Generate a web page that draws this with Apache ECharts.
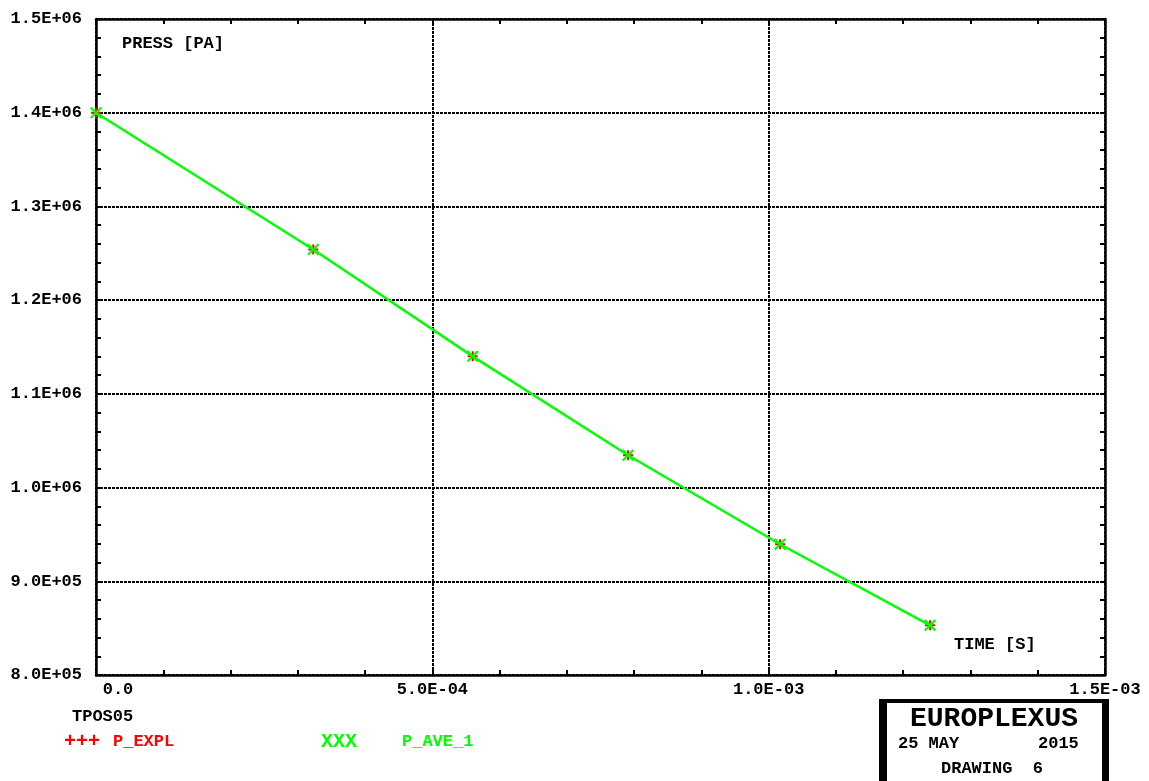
<!DOCTYPE html>
<html>
<head>
<meta charset="utf-8">
<script src="https://cdn.jsdelivr.net/npm/echarts@6/dist/echarts.min.js"></script>
<style>
html,body{margin:0;padding:0;background:#fff;}
#chart{width:1149px;height:781px;}
</style>
</head>
<body>
<div id="chart"></div>
<script>
// ---- data ----
var timeS = [0, 0.000323, 0.000560, 0.000791, 0.001017, 0.001240];
var pExpl = [1400000, 1254000, 1140000, 1034500, 939500, 853000];
var pAve1 = [1400000, 1254000, 1140000, 1034500, 939500, 853000];
var xTicks = [0, 0.0005, 0.001, 0.0015];
var yTicks = [800000, 900000, 1000000, 1100000, 1200000, 1300000, 1400000, 1500000];
var seriesNames = ['P_EXPL', 'P_AVE_1'];
var seriesColors = ['#ff0000', '#00ff00'];

var FONT = '"Liberation Mono", "DejaVu Sans Mono", monospace';

function fmtE(v) {
  if (v === 0) return '0.0';
  var s = v.toExponential(1).toUpperCase();
  var parts = s.split('E');
  var sign = parts[1].charAt(0);
  var e = parts[1].slice(1);
  if (e.length < 2) e = '0' + e;
  return parts[0] + 'E' + sign + e;
}

function pairs(xs, ys) {
  var out = [];
  for (var i = 0; i < xs.length; i++) out.push([xs[i], ys[i]]);
  return out;
}

var plusPath = 'path://M4,0 L6,0 L6,4 L10,4 L10,6 L6,6 L6,10 L4,10 L4,6 L0,6 L0,4 L4,4 Z';
var crossPath = 'path://M0,1.3 L1.3,0 L5,3.7 L8.7,0 L10,1.3 L6.3,5 L10,8.7 L8.7,10 L5,6.3 L1.3,10 L0,8.7 L3.7,5 Z';

var chart = echarts.init(document.getElementById('chart'), null, {renderer: 'canvas'});

var axisLineStyle = {color: '#000', width: 2.5};
var tickStyle = {color: '#000', width: 2};
var gridLine = {show: true, lineStyle: {color: '#000', width: 2, type: [3, 1]}};

var option = {
  animation: false,
  backgroundColor: '#fff',
  grid: {left: 96, right: 44, top: 19, bottom: 106, containLabel: false},
  xAxis: [{
    type: 'value', min: xTicks[0], max: xTicks[xTicks.length - 1], interval: 0.0005,
    position: 'bottom',
    axisLine: {show: true, onZero: false, lineStyle: axisLineStyle},
    axisTick: {show: true, inside: true, length: 5, lineStyle: tickStyle},
    minorTick: {show: true, splitNumber: 5, length: 5, lineStyle: tickStyle},
    splitLine: gridLine,
    axisLabel: {
      show: true, margin: 6, color: '#000',
      fontFamily: FONT, fontWeight: 'bold', fontSize: 17,
      formatter: function (v) { return v === 0 ? '{z|0.0}' : fmtE(v); },
      rich: {z: {fontFamily: FONT, fontWeight: 'bold', fontSize: 17, color: '#000', padding: [0, 0, 0, 44]}}
    }
  }, {
    type: 'value', min: xTicks[0], max: xTicks[xTicks.length - 1], interval: 0.0005,
    position: 'top',
    axisLine: {show: true, onZero: false, lineStyle: axisLineStyle},
    axisTick: {show: true, inside: true, length: 5, lineStyle: tickStyle},
    minorTick: {show: true, splitNumber: 5, length: 5, lineStyle: tickStyle},
    splitLine: {show: false},
    axisLabel: {show: false}
  }],
  yAxis: [{
    type: 'value', min: yTicks[0], max: yTicks[yTicks.length - 1], interval: 100000,
    position: 'left',
    axisLine: {show: true, onZero: false, lineStyle: axisLineStyle},
    axisTick: {show: true, inside: true, length: 5, lineStyle: tickStyle},
    minorTick: {show: true, splitNumber: 5, length: 5, lineStyle: tickStyle},
    splitLine: gridLine,
    axisLabel: {
      show: true, margin: 14, color: '#000',
      fontFamily: FONT, fontWeight: 'bold', fontSize: 17,
      formatter: function (v) { return fmtE(v); }
    }
  }, {
    type: 'value', min: yTicks[0], max: yTicks[yTicks.length - 1], interval: 100000,
    position: 'right',
    axisLine: {show: true, onZero: false, lineStyle: axisLineStyle},
    axisTick: {show: true, inside: true, length: 5, lineStyle: tickStyle},
    minorTick: {show: true, splitNumber: 5, length: 5, lineStyle: tickStyle},
    splitLine: {show: false},
    axisLabel: {show: false}
  }],
  series: [{
    name: seriesNames[0], type: 'line', xAxisIndex: 0, yAxisIndex: 0,
    data: pairs(timeS, pExpl),
    symbol: plusPath, symbolSize: 10,
    itemStyle: {color: seriesColors[0]},
    lineStyle: {color: seriesColors[0], width: 1},
    z: 2
  }, {
    name: seriesNames[1], type: 'line', xAxisIndex: 0, yAxisIndex: 0,
    data: pairs(timeS, pAve1),
    symbol: crossPath, symbolSize: 12,
    itemStyle: {color: seriesColors[1]},
    lineStyle: {color: seriesColors[1], width: 2.5},
    z: 3
  }],
  graphic: [
    {type: 'text', left: 122, top: 35, style: {text: 'PRESS [PA]', font: 'bold 17px ' + FONT, fill: '#000'}},
    {type: 'text', left: 954, top: 636, style: {text: 'TIME [S]', font: 'bold 17px ' + FONT, fill: '#000'}},
    {type: 'text', left: 72, top: 708, style: {text: 'TPOS05', font: 'bold 17px ' + FONT, fill: '#000'}},
    {type: 'text', left: 64, top: 732, style: {text: '+++', font: 'bold 20px ' + FONT, fill: seriesColors[0]}},
    {type: 'text', left: 113, top: 733, style: {text: seriesNames[0], font: 'bold 17px ' + FONT, fill: seriesColors[0]}},
    {type: 'text', left: 321, top: 732, style: {text: 'XXX', font: 'bold 20px ' + FONT, fill: seriesColors[1]}},
    {type: 'text', left: 402, top: 733, style: {text: seriesNames[1], font: 'bold 17px ' + FONT, fill: seriesColors[1]}},
    // title box
    {type: 'rect', shape: {x: 879, y: 699, width: 230, height: 90}, style: {fill: '#000'}},
    {type: 'rect', shape: {x: 887, y: 703, width: 215, height: 90}, style: {fill: '#fff'}},
    {type: 'text', left: 910, top: 705, style: {text: 'EUROPLEXUS', font: 'bold 28px ' + FONT, fill: '#000'}},
    {type: 'text', left: 898, top: 735, style: {text: '25 MAY', font: 'bold 17px ' + FONT, fill: '#000'}},
    {type: 'text', left: 1038, top: 735, style: {text: '2015', font: 'bold 17px ' + FONT, fill: '#000'}},
    {type: 'text', left: 941, top: 760, style: {text: 'DRAWING  6', font: 'bold 17px ' + FONT, fill: '#000'}}
  ]
};
chart.setOption(option);
</script>
</body>
</html>
